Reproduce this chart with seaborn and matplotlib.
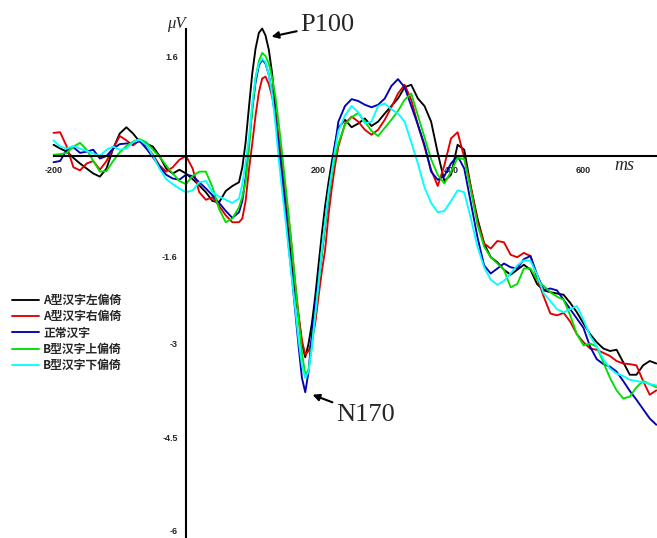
import numpy as np
import pandas as pd
import matplotlib
matplotlib.use('Agg')
import matplotlib.pyplot as plt
import seaborn as sns

# sample times (ms): 10 ms steps, 5 ms steps around P100 / N170
times = list(range(-200, 80, 10)) + list(range(80, 235, 5)) + list(range(240, 720, 10))

# amplitudes (uV)
a_left = [0.18, 0.12, 0.07, -0.03, -0.12, -0.20, -0.28, -0.33, -0.20, 0.12, 0.36, 0.46, 0.36, 0.23,
          0.20, 0.15, 0.00, -0.20, -0.28, -0.22, -0.28, -0.37, -0.47, -0.58, -0.72, -0.74, -0.56, -0.48,
          -0.42, -0.18, 0.22, 0.78, 1.32, 1.72, 1.97, 2.04, 1.93, 1.70, 1.32, 0.75, 0.15, -0.30, -0.75,
          -1.28, -1.78, -2.20, -2.57, -3.00, -3.22, -3.00, -2.68, -2.25, -1.75, -1.25, -0.80, -0.43,
          -0.10, 0.20, 0.45,
          0.58, 0.46, 0.52, 0.60, 0.48, 0.55, 0.68, 0.80, 0.92, 1.10, 1.14, 0.92, 0.80, 0.55, 0.05,
          -0.40, -0.30, 0.18, 0.10, -0.50, -1.00, -1.40, -1.62, -1.70, -1.82, -1.90, -1.82, -1.74,
          -1.82, -2.05, -2.15, -2.18, -2.20, -2.22, -2.35, -2.50, -2.68, -2.85, -2.98, -3.08, -3.12,
          -3.10, -3.30, -3.50, -3.50, -3.35, -3.28, -3.32]
a_right = [0.37, 0.38, 0.15, -0.18, -0.23, -0.12, -0.08, -0.22, -0.08, 0.12, 0.32, 0.25, 0.17, 0.25,
           0.16, 0.02, -0.15, -0.25, -0.18, -0.06, 0.00, -0.20, -0.58, -0.70, -0.66, -0.80, -0.95, -1.06,
           -1.06, -1.00, -0.72, -0.22, 0.20, 0.65, 1.02, 1.24, 1.27, 1.15, 0.95, 0.68, 0.30, -0.10,
           -0.55, -1.00, -1.50, -2.05, -2.55, -2.95, -3.18, -3.12, -2.95, -2.68, -2.25, -1.85, -1.50,
           -0.95, -0.52, -0.15, 0.15,
           0.52, 0.63, 0.55, 0.42, 0.34, 0.42, 0.58, 0.78, 1.00, 1.14, 0.90, 0.50, 0.15, -0.22, -0.48,
           -0.15, 0.28, 0.38, -0.02, -0.50, -1.05, -1.40, -1.48, -1.36, -1.38, -1.58, -1.62, -1.55,
           -1.60, -1.95, -2.25, -2.52, -2.55, -2.51, -2.65, -2.85, -2.98, -3.08, -3.10, -3.15, -3.20,
           -3.28, -3.32, -3.33, -3.35, -3.60, -3.82, -3.75]
normal = [-0.10, -0.08, 0.10, 0.14, 0.05, 0.07, 0.10, -0.04, 0.00, 0.12, 0.19, 0.20, 0.20, 0.24,
          0.12, -0.02, -0.17, -0.30, -0.36, -0.38, -0.30, -0.32, -0.42, -0.52, -0.63, -0.75, -0.88, -0.99,
          -0.90, -0.72, -0.35, 0.20, 0.75, 1.18, 1.45, 1.54, 1.48, 1.30, 1.00, 0.60, 0.15, -0.30, -0.85,
          -1.45, -1.95, -2.50, -3.05, -3.55, -3.78, -3.45, -2.85, -2.35, -1.95, -1.58, -1.10, -0.68,
          -0.25, 0.18, 0.55,
          0.80, 0.91, 0.88, 0.82, 0.78, 0.82, 0.92, 1.12, 1.23, 1.10, 0.80, 0.50, 0.18, -0.25, -0.38,
          -0.32, -0.12, 0.00, -0.20, -0.75, -1.30, -1.75, -1.88, -1.80, -1.72, -1.78, -1.80, -1.65,
          -1.60, -1.90, -2.14, -2.12, -2.15, -2.30, -2.45, -2.60, -2.75, -3.05, -3.25, -3.33, -3.37,
          -3.45, -3.60, -3.76, -3.90, -4.05, -4.20, -4.30]
b_up = [0.02, 0.03, 0.05, 0.15, 0.21, 0.10, -0.08, -0.25, -0.24, -0.08, 0.06, 0.16, 0.23, 0.27,
        0.22, 0.10, -0.01, -0.15, -0.28, -0.40, -0.45, -0.32, -0.25, -0.25, -0.50, -0.85, -1.06, -1.00,
        -0.82, -0.65, -0.42, 0.12, 0.75, 1.25, 1.52, 1.65, 1.60, 1.48, 1.25, 0.95, 0.52, 0.05, -0.45,
        -0.95, -1.48, -2.05, -2.60, -3.15, -3.50, -3.42, -3.05, -2.55, -2.05, -1.55, -1.10, -0.65,
        -0.30, -0.02, 0.20,
        0.50, 0.62, 0.69, 0.55, 0.40, 0.32, 0.45, 0.58, 0.72, 0.90, 1.00, 0.65, 0.30, -0.05, -0.30,
        -0.44, -0.25, -0.03, -0.05, -0.55, -1.10, -1.45, -1.62, -1.72, -1.82, -2.10, -2.05, -1.80,
        -1.80, -1.98, -2.08, -2.18, -2.25, -2.30, -2.55, -2.85, -3.03, -3.00, -3.05, -3.30, -3.55,
        -3.75, -3.88, -3.85, -3.70, -3.60, -3.65, -3.70]
b_down = [0.25, 0.15, 0.12, 0.16, 0.12, 0.08, 0.04, 0.00, 0.10, 0.15, 0.10, 0.12, 0.22, 0.26,
          0.18, 0.00, -0.20, -0.37, -0.45, -0.52, -0.58, -0.55, -0.42, -0.40, -0.58, -0.65, -0.70, -0.75,
          -0.68, -0.45, -0.10, 0.30, 0.85, 1.25, 1.48, 1.56, 1.50, 1.30, 0.98, 0.52, -0.05, -0.55,
          -1.00, -1.50, -1.98, -2.45, -2.95, -3.35, -3.55, -3.45, -3.05, -2.55, -2.05, -1.50, -1.05,
          -0.60, -0.25, 0.10, 0.40,
          0.65, 0.80, 0.70, 0.52, 0.55, 0.80, 0.84, 0.75, 0.68, 0.55, 0.22, -0.12, -0.50, -0.75, -0.90,
          -0.88, -0.72, -0.55, -0.58, -1.00, -1.45, -1.78, -1.98, -2.06, -2.00, -1.88, -1.75, -1.67,
          -1.68, -1.90, -2.20, -2.32, -2.45, -2.50, -2.45, -2.40, -2.62, -2.88, -3.05, -3.25, -3.40,
          -3.48, -3.52, -3.58, -3.60, -3.62, -3.65, -3.67]

labels = ['A型汉字左偏倚', 'A型汉字右偏倚', '正常汉字', 'B型汉字上偏倚', 'B型汉字下偏倚']
colors = ['#000000', '#e00000', '#0000b4', '#00e000', '#00ffff']
series = [a_left, a_right, normal, b_up, b_down]

yticks = [1.6, -1.6, -3, -4.5, -6]
ytick_labels = ['1.6', '-1.6', '-3', '-4.5', '-6']
xticks = [-200, 200, 400, 600]

frames = []
for lab, vals in zip(labels, series):
    frames.append(pd.DataFrame({'time': times, 'amp': vals, 'cond': lab}))
df = pd.concat(frames, ignore_index=True)

sns.set_style('white')
plt.rcParams['font.family'] = ['Noto Sans CJK SC', 'DejaVu Sans']
plt.rcParams['axes.unicode_minus'] = False

fig = plt.figure(figsize=(6.57, 5.38), dpi=100)
ax = fig.add_axes([0, 0, 1, 1])

sns.lineplot(data=df, x='time', y='amp', hue='cond', hue_order=labels,
             palette=dict(zip(labels, colors)), estimator=None, sort=False,
             linewidth=1.35, ax=ax)

ax.set_xlim(-280.8, 711)
ax.set_ylim(-6.112, 2.496)

for side in ['top', 'right']:
    ax.spines[side].set_visible(False)
ax.spines['left'].set_position(('data', 0))
ax.spines['bottom'].set_position(('data', 0))
ax.spines['left'].set_bounds(-6.11, 2.03)
ax.spines['bottom'].set_bounds(-200, 711)
for side in ['left', 'bottom']:
    ax.spines[side].set_linewidth(1.5)
    ax.spines[side].set_color('black')

ax.set_xticks(xticks)
ax.set_xticklabels([str(t) for t in xticks])
ax.set_yticks(yticks)
ax.set_yticklabels(ytick_labels)
ax.tick_params(axis='x', direction='out', length=5, width=1.2, pad=2, labelsize=6.5)
ax.tick_params(axis='y', direction='out', length=4, width=1.2, pad=2, labelsize=6.5)
for lbl in ax.get_xticklabels() + ax.get_yticklabels():
    lbl.set_fontweight('bold')
    lbl.set_family('Liberation Sans')
ax.set_xlabel('')
ax.set_ylabel('')
ax.grid(False)

ax.text(-14, 2.11, 'μV', fontsize=12, style='italic', family='Liberation Serif',
        ha='center', va='center')
ax.text(661, -0.16, 'ms', fontsize=13, style='italic', family='Liberation Serif',
        ha='center', va='center')

ax.annotate('P100', xy=(129, 1.91), xytext=(172, 2.1), fontsize=19,
            family='Liberation Serif', va='center', ha='left',
            arrowprops=dict(arrowstyle='-|>', color='black', lw=1.5,
                            mutation_scale=10, shrinkA=0, shrinkB=0))
ax.annotate('N170', xy=(191, -3.82), xytext=(226, -4.14), fontsize=19,
            family='Liberation Serif', va='center', ha='left',
            arrowprops=dict(arrowstyle='-|>', color='black', lw=1.5,
                            mutation_scale=10, shrinkA=0, shrinkB=0))

leg = ax.legend(loc='upper left', bbox_to_anchor=(12 / 657, 1 - 294 / 538),
                bbox_transform=fig.transFigure, frameon=False, fontsize=8.5,
                handlelength=2.3, handletextpad=0.35, labelspacing=0.28,
                borderpad=0, borderaxespad=0)
for txt in leg.get_texts():
    txt.set_fontweight('bold')
for line in leg.get_lines():
    line.set_linewidth(1.35)

fig.savefig('out.png', dpi=100)
